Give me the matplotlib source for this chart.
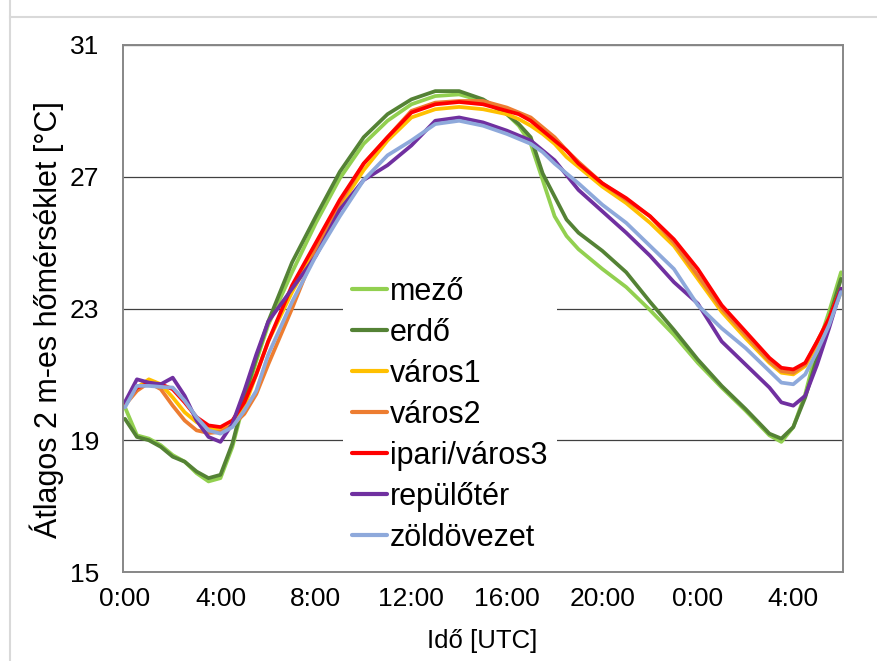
import numpy as np
import matplotlib
matplotlib.use("Agg")
import matplotlib.pyplot as plt
from matplotlib.lines import Line2D

plt.rcParams['font.family'] = ['Liberation Sans', 'DejaVu Sans']

# Időpontok órában (0:00-tól a következő nap 6:00-ig)
hours = [0, 0.5, 1, 1.5, 2, 2.5, 3, 3.5, 4, 4.5, 5, 5.5, 6, 7, 8, 9, 10, 11, 12, 13, 14, 15, 16,
         16.5, 17, 17.5, 18, 18.5, 19, 20, 21, 22, 23, 24, 25, 26, 27, 27.5, 28, 28.5, 29, 29.5, 30]

mezo = [20.0, 19.15, 19.05, 18.85, 18.55, 18.35, 18.0, 17.75, 17.85, 18.8, 20.2, 21.4, 22.5,
        24.1, 25.6, 26.95, 28.0, 28.7, 29.2, 29.45, 29.5, 29.3, 28.9, 28.55, 28.0, 26.9, 25.8,
        25.2, 24.8, 24.2, 23.65, 22.95, 22.2, 21.35, 20.6, 19.9, 19.15, 18.95, 19.4, 20.4, 21.8,
        22.9, 24.1]
erdo = [19.65, 19.1, 19.0, 18.8, 18.5, 18.35, 18.05, 17.85, 17.95, 18.9, 20.3, 21.5, 22.6,
        24.4, 25.8, 27.15, 28.2, 28.9, 29.35, 29.6, 29.6, 29.35, 28.9, 28.6, 28.2, 27.1, 26.4,
        25.7, 25.3, 24.75, 24.1, 23.2, 22.35, 21.45, 20.65, 19.95, 19.2, 19.05, 19.4, 20.3, 21.5,
        22.7, 23.9]
varos1 = [20.1, 20.6, 20.85, 20.7, 20.3, 19.85, 19.55, 19.35, 19.3, 19.45, 20.0, 21.0, 22.0,
          23.5, 24.8, 26.1, 27.2, 28.1, 28.8, 29.05, 29.12, 29.05, 28.9, 28.75, 28.55, 28.3, 28.0,
          27.6, 27.3, 26.7, 26.2, 25.6, 24.9, 23.9, 22.9, 22.1, 21.35, 21.05, 21.0, 21.25, 21.9,
          22.6, 23.5]
varos2 = [20.07, 20.5, 20.75, 20.55, 20.05, 19.6, 19.3, 19.22, 19.25, 19.45, 19.8, 20.4, 21.3,
          23.0, 24.8, 26.2, 27.4, 28.2, 29.0, 29.25, 29.3, 29.3, 29.1, 28.95, 28.8, 28.5, 28.2,
          27.8, 27.45, 26.8, 26.3, 25.8, 25.0, 24.0, 23.0, 22.2, 21.4, 21.1, 21.05, 21.3, 22.0,
          22.7, 23.6]
ipari = [20.13, 20.6, 20.72, 20.7, 20.55, 20.15, 19.7, 19.45, 19.4, 19.6, 20.15, 21.0, 22.0,
         23.7, 25.0, 26.3, 27.4, 28.2, 28.95, 29.2, 29.27, 29.2, 29.0, 28.9, 28.7, 28.4, 28.1,
         27.8, 27.4, 26.8, 26.35, 25.8, 25.1, 24.2, 23.1, 22.3, 21.5, 21.2, 21.15, 21.35, 22.0,
         22.7, 23.6]
repuloter = [20.16, 20.85, 20.75, 20.7, 20.9, 20.35, 19.6, 19.1, 18.95, 19.5, 20.5, 21.6, 22.6,
             23.6, 24.6, 26.0, 26.9, 27.35, 27.95, 28.7, 28.8, 28.65, 28.4, 28.25, 28.1, 27.8,
             27.5, 27.05, 26.6, 25.95, 25.3, 24.6, 23.8, 23.15, 22.0, 21.3, 20.6, 20.15, 20.05,
             20.35, 21.3, 22.4, 23.6]
zoldovezet = [20.0, 20.65, 20.65, 20.62, 20.6, 20.2, 19.7, 19.3, 19.2, 19.4, 19.9, 20.5, 21.6,
              23.2, 24.6, 25.8, 26.9, 27.65, 28.1, 28.6, 28.7, 28.55, 28.3, 28.15, 28.0, 27.75,
              27.4, 27.1, 26.8, 26.15, 25.6, 24.9, 24.2, 23.1, 22.4, 21.8, 21.1, 20.75, 20.7,
              21.0, 21.7, 22.5, 23.5]

series_names = ['mező', 'erdő', 'város1', 'város2', 'ipari/város3', 'repülőtér', 'zöldövezet']
series_values = [mezo, erdo, varos1, varos2, ipari, repuloter, zoldovezet]
colors = ['#92D050', '#548235', '#FFC000', '#ED7D31', '#FF0000', '#7030A0', '#8EA9DB']

xtick_pos = [0, 4, 8, 12, 16, 20, 24, 28]
xtick_labels = ['0:00', '4:00', '8:00', '12:00', '16:00', '20:00', '0:00', '4:00']
ytick_pos = [15, 19, 23, 27, 31]

fig = plt.figure(figsize=(8.78, 6.61), dpi=100)
ax = fig.add_axes([123 / 878, 1 - 572 / 661, 720 / 878, 527 / 661])

for name, vals, c in zip(series_names, series_values, colors):
    ax.plot(hours, vals, color=c, lw=2.7, label=name, solid_capstyle='round')

ax.set_xlim(-1 / 12, 30 + 1 / 12)
ax.set_ylim(15, 31)
ax.set_xticks(xtick_pos)
ax.set_xticklabels(xtick_labels)
ax.set_yticks(ytick_pos)
ax.tick_params(axis='both', length=0, labelsize=19)
ax.tick_params(axis='x', pad=11)
ax.tick_params(axis='y', pad=17)
ax.grid(axis='y', color='#404040', lw=0.9)
ax.set_axisbelow(True)
for s in ax.spines.values():
    s.set_color('#878787')
    s.set_linewidth(1.4)

fig.text(47 / 878, 1 - 320 / 661, 'Átlagos 2 m-es hőmérséklet [°C]', rotation=90,
         ha='center', va='center', fontsize=22)
fig.text(482 / 878, 1 - 641 / 661, 'Idő [UTC]', ha='center', va='center', fontsize=18.5)

leg = ax.legend(loc='upper left', bbox_to_anchor=(0.305, 0.578), fontsize=22,
                frameon=True, facecolor='white', edgecolor='none', framealpha=1,
                fancybox=False, handlelength=1.15, handletextpad=0.1, labelspacing=0.36,
                borderpad=0.3, borderaxespad=0)
for h in leg.get_lines():
    h.set_linewidth(3)

# szürke keret a diagram körül
fig.add_artist(Line2D([10 / 878, 10 / 878], [0, 1], color='#d9d9d9', lw=1.5))
fig.add_artist(Line2D([10 / 878, 1], [1 - 17 / 661, 1 - 17 / 661], color='#d9d9d9', lw=1.5))

fig.savefig('out.png', dpi=100)
